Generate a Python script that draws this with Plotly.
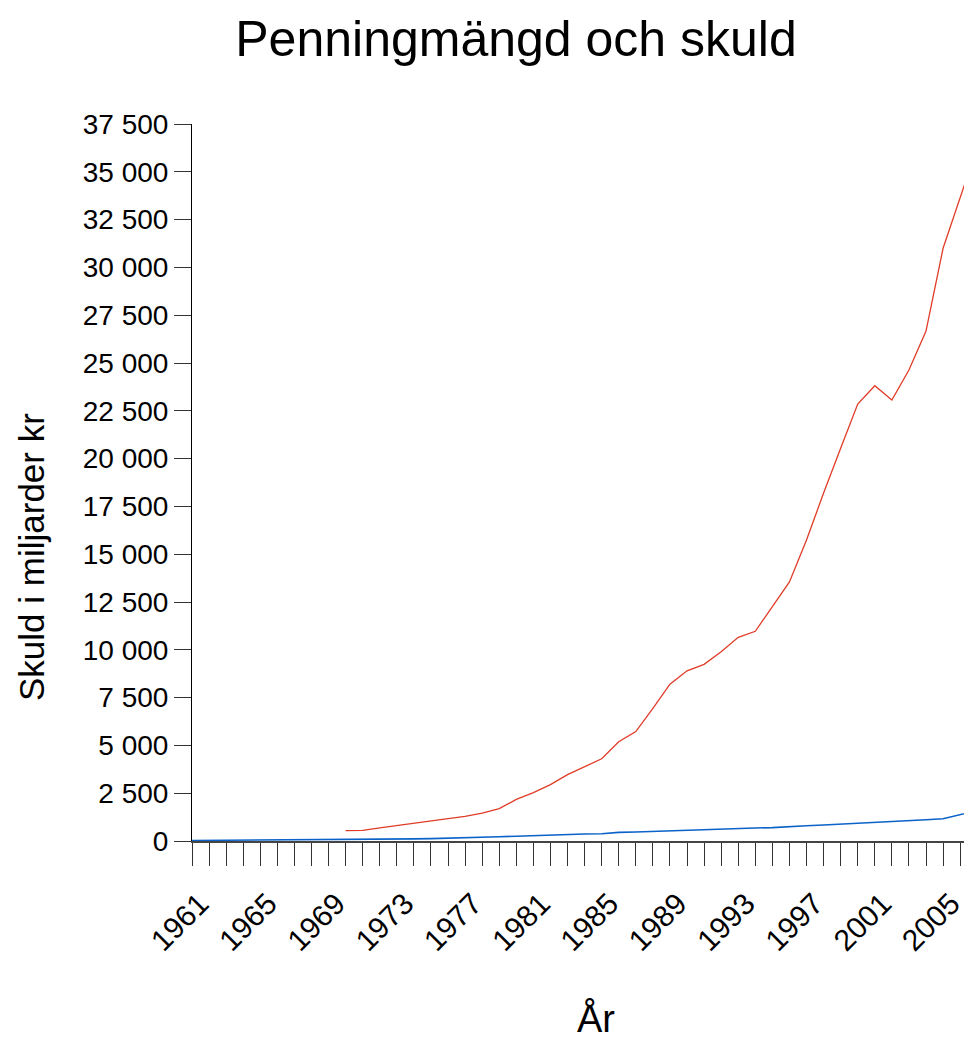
import plotly.graph_objects as go

# data (miljarder kr)
years = list(range(1961, 2008))
penningmangd = [30, 33, 36, 40, 44, 48, 52, 57, 62, 67,
                75, 85, 97, 110, 125, 140, 157, 185, 225, 250,
                285, 320, 350, 370, 383, 450, 470, 500, 560, 595,
                610, 630, 660, 680, 700, 765, 800, 840, 880, 925,
                970, 1010, 1060, 1110, 1165, 1380, 1590]

skuld_years = list(range(1970, 2008))
skuld = [540, 560, 690, 800, 940, 1060, 1170, 1290, 1460, 1690,
         2180, 2530, 2950, 3470, 3890, 4300, 5190, 5720, 6940, 8200,
         8900, 9240, 9900, 10650, 10970, 12250, 13550, 15740, 18200, 20540,
         22850, 23810, 23060, 24630, 26670, 31000, 33670, 36300]

FONT = 'Liberation Sans Narrow, Arial Narrow, Liberation Sans, Arial, sans-serif'

# page has an 8px body margin, figure is placed from there;
# the plot runs a little past the right edge of the window, like the original
W, H = 980, 1034
L, T, B = 184, 116, 201
PW, PH = W - L, H - T - B


def px(xp, yp):
    # page pixel -> paper coords of the plot area
    return (xp - 8 - L) / PW, (H - B - (yp - 8)) / PH


fig = go.Figure()
fig.add_trace(go.Scatter(x=years, y=penningmangd, mode='lines', name='Penningmängd',
                         line=dict(color='#0b63c9', width=1.6)))
fig.add_trace(go.Scatter(x=skuld_years, y=skuld, mode='lines', name='Skuld',
                         line=dict(color='#e03c28', width=1.3)))

yx, yy = px(31, 557)
ax, ay = px(596, 1018)
fig.update_layout(
    width=W, height=H,
    margin=dict(l=L, r=0, t=T, b=B, autoexpand=False),
    paper_bgcolor='white', plot_bgcolor='white',
    showlegend=False,
    separators=', ',
    font=dict(family=FONT, color='black'),
    title=dict(text='Penningmängd och skuld', font=dict(size=50, family=FONT),
               x=(516 - 8) / W, xanchor='center', xref='container',
               y=1 - (38 - 8) / H, yanchor='middle', yref='container'),
    annotations=[
        dict(text='Skuld i miljarder kr', textangle=-90, showarrow=False,
             xref='paper', yref='paper', x=yx, y=yy,
             xanchor='center', yanchor='middle', font=dict(size=35, family=FONT)),
        dict(text='År', showarrow=False,
             xref='paper', yref='paper', x=ax, y=ay,
             xanchor='center', yanchor='middle', font=dict(size=38, family=FONT)),
    ],
)

fig.update_xaxes(
    range=[1961, 1961 + PW / 17.07], automargin=False,
    tick0=1961, dtick=4, tickangle=-45,
    ticks='outside', ticklen=23, tickcolor='#333', tickwidth=1,
    ticklabelshift=8, ticklabelstandoff=8,
    minor=dict(dtick=1, tick0=1961, ticks='outside', ticklen=23, tickcolor='#333', tickwidth=1),
    tickfont=dict(size=30, family=FONT),
    showline=True, linecolor='#444', linewidth=2,
    showgrid=False, zeroline=False,
)
fig.update_yaxes(
    range=[0, 37500], dtick=2500, tickformat=',d', automargin=False,
    ticks='outside', ticklen=17, tickcolor='#333', tickwidth=1,
    tickfont=dict(size=28, family=FONT),
    showline=True, linecolor='black', linewidth=1,
    showgrid=False, zeroline=False,
)

fig.write_html('out.html')
